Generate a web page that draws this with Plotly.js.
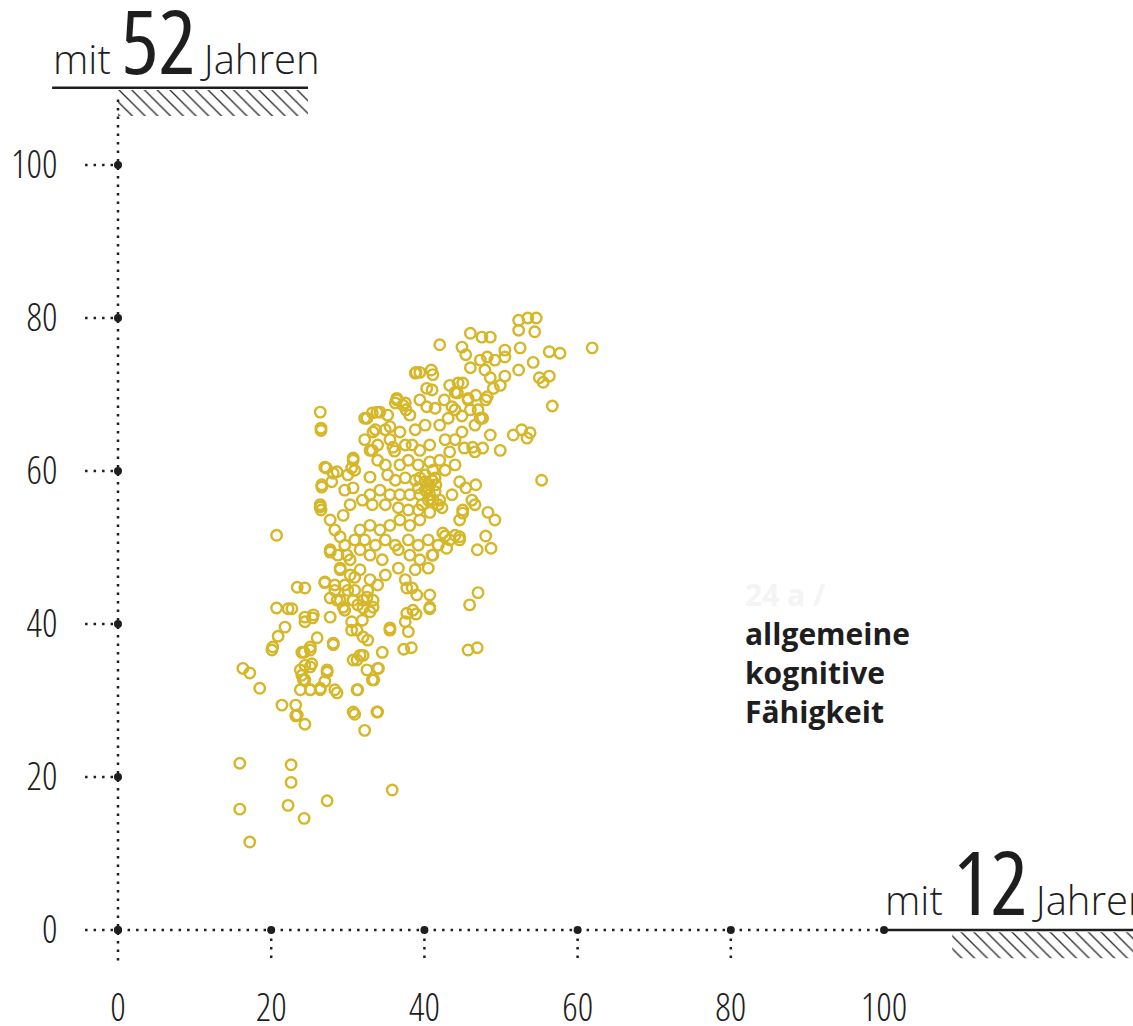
<!DOCTYPE html>
<html>
<head>
<meta charset="utf-8">
<script src="https://cdn.plot.ly/plotly-3.0.1.min.js"></script>
<style>
html,body{margin:0;padding:0;background:#fff;}
#chart{width:1133px;height:1026px;}
.xtick text, .ytick text { font-stretch: 75% !important; }
</style>
</head>
<body>
<div id="chart"></div>
<script>
// Score at age 12 (x) and at age 52 (y), general cognitive ability
const scoreAge12 = [
15.9,15.9,17.2,22.6,22.6,22.2,24.3,27.3,35.8,20.7,16.3,17.2,18.5,20.1,20.9,21.8,20.7,22.2,22.7,23.4,
24.4,21.4,23.2,23.2,24.4,23.8,24.4,24.0,24.4,24.3,25.1,25.3,25.1,26.4,27.3,27.0,26.0,24.4,25.4,28.1,
28.3,30.9,32.2,31.3,33.8,33.4,34.0,32.0,31.2,32.6,30.5,31.9,32.9,33.3,31.3,29.6,29.0,27.7,27.0,28.3,
29.6,30.9,29.0,30.3,31.6,32.9,32.6,35.5,37.5,37.3,38.3,38.4,38.9,40.7,40.7,42.7,45.9,47.0,46.9,48.7,
48.0,44.6,45.0,46.6,46.7,45.4,55.3,61.9,57.7,56.3,56.3,55.0,56.7,54.6,53.5,52.3,52.3,54.4,52.5,50.5,
52.3,49.9,48.6,47.9,49.2,47.3,48.6,47.5,46.0,44.9,45.4,46.0,42.0,44.4,44.0,45.7,46.7,48.0,47.0,47.6,
46.6,44.9,48.6,51.6,52.7,53.4,53.8,49.9,
26.4,26.5,26.5,27.2,26.6,26.4,26.5,28.6,27.9,29.6,27.7,28.3,29.0,27.7,28.7,29.6,29.4,30.3,30.5,30.7,
32.2,32.2,33.2,34.2,35.2,36.2,37.2,37.6,36.4,38.9,39.4,40.9,41.1,40.3,41.0,43.3,42.6,39.4,38.1,41.4,
43.1,44.0,44.9,46.0,42.0,40.1,38.8,36.8,34.9,33.6,35.5,33.9,32.9,36.1,37.5,38.4,39.4,40.7,42.7,44.0,
43.3,45.2,46.6,47.6,42.0,40.7,39.2,37.9,36.8,34.9,33.9,35.2,36.2,37.5,38.8,40.1,41.4,42.7,44.0,40.7,
40.1,41.4,39.4,40.5,42.0,38.1,36.8,35.5,34.2,32.9,31.9,33.2,34.9,36.6,37.9,39.2,40.7,42.3,43.6,39.4,
38.1,36.8,35.5,34.2,32.9,31.6,30.9,32.2,33.6,34.9,36.2,37.9,39.2,40.5,41.8,43.3,44.0,36.6,38.1,39.4,
41.0,40.5,38.8,34.5,32.9,31.6,30.3,33.9,34.9,36.6,37.5,
40.1,40.5,41.0,41.5,40.7,39.7,41.8,41.1,39.4,40.3,41.1,39.2,
38.8,36.4,37.5,32.5,33.8,33.3,35.5,33.2,35.9,30.7,27.0,28.1,26.6,30.0,30.9,32.9,30.7,
26.4,27.7,29.9,29.0,30.9,27.0,28.3,30.0,28.6,29.4,30.7,32.0,32.5,33.3,32.0,24.4,25.5,27.7,30.5,31.2,
32.0,20.2,24.0,25.1,28.1,31.6,30.7,32.5,33.9,33.2,34.5,31.2,28.6,30.7,33.9,23.8,24.2,25.1,27.3,26.4,
25.1,23.4,35.5,37.9,37.7,39.0,40.7,37.7,38.5,
45.7,46.9,48.2,50.5,54.2,55.5,45.0,50.5,49.0,44.3,45.7,48.2,40.3,43.6,47.3,47.3,46.3,44.6,46.2,
45.0,48.3,49.2,44.6,42.9,42.4,44.6,41.1
];
const scoreAge52 = [
21.8,15.8,11.5,21.6,19.3,16.3,14.6,16.9,18.3,51.6,34.2,33.6,31.6,36.6,38.4,39.6,42.1,42.0,42.0,44.8,
44.7,29.4,29.4,28.0,26.9,31.4,32.7,33.3,34.6,36.3,36.6,34.8,31.4,31.4,34.0,32.5,38.2,40.3,40.8,37.3,
31.4,28.2,26.1,31.4,28.5,32.7,34.2,35.9,35.3,37.9,39.2,40.5,41.6,43.1,42.5,41.8,43.1,43.4,45.4,45.1,
45.1,44.4,47.1,48.4,47.1,45.8,44.4,39.2,40.3,36.7,36.9,44.7,41.3,43.8,42.0,51.5,42.5,44.1,49.7,49.9,
51.5,53.6,54.9,55.6,58.2,57.8,58.8,76.1,75.4,75.6,72.4,72.2,68.5,80.0,80.0,79.7,78.4,78.2,76.1,75.8,
73.2,71.2,72.2,73.2,74.5,74.5,77.5,77.5,78.0,76.2,75.2,73.5,76.5,71.5,70.3,69.5,69.9,69.3,68.0,66.9,
66.0,65.1,64.7,64.7,65.4,64.3,65.0,62.7,
67.7,65.6,65.3,60.4,58.2,55.6,54.9,59.9,58.6,57.5,53.6,52.3,51.4,49.7,49.0,50.3,54.2,55.6,60.4,61.4,
64.1,66.9,67.6,67.7,67.3,68.9,68.6,68.0,69.5,72.9,72.9,73.2,72.6,70.8,70.6,71.2,69.3,69.3,67.3,68.2,
66.9,68.0,67.2,68.0,66.0,66.0,65.4,65.1,65.4,65.4,64.1,63.4,62.7,62.6,63.4,63.4,62.7,63.4,64.1,64.1,
62.5,63.0,62.5,63.0,61.4,61.2,60.8,61.4,60.8,60.8,61.4,59.5,58.8,59.1,58.8,59.5,59.1,60.1,60.8,58.2,
57.5,57.3,56.9,56.2,56.2,56.9,56.9,56.9,57.5,56.9,56.2,55.6,55.6,55.2,54.9,54.9,54.6,55.2,56.9,53.6,
52.9,53.6,52.9,52.3,52.9,52.3,51.0,51.0,50.3,51.0,50.3,51.0,50.3,51.0,50.3,51.0,51.6,49.7,49.0,48.4,
49.0,47.3,47.1,48.4,49.0,49.7,46.4,45.1,46.4,47.3,45.8,
58.6,57.8,58.8,58.2,56.9,55.6,55.6,60.1,59.1,57.3,56.2,57.8,
72.8,69.3,68.9,66.9,67.7,65.1,65.8,62.7,63.1,61.7,60.5,59.7,57.9,59.5,60.1,59.2,57.8,
55.3,49.4,49.0,47.3,46.1,45.5,44.4,44.4,43.1,42.2,43.1,43.1,43.5,42.2,42.1,40.9,41.2,40.9,40.3,39.2,
38.3,37.0,36.3,37.0,37.5,35.9,35.3,34.0,34.2,32.7,36.3,31.4,31.0,28.5,28.5,34.0,32.7,34.4,33.7,31.6,
31.4,28.1,39.5,39.0,44.7,43.8,42.2,41.4,41.8,36.6,36.9,
74.9,74.9,74.2,71.6,71.5,72.4,70.8,70.2,69.3,69.7,68.4,68.4,66.9,66.9,63.1,58.6,56.2,54.5,54.6,
53.6,51.4,49.9,51.9,51.0,49.0,48.0,47.7
];
const tickValues = [0, 20, 40, 60, 80, 100];
const tickLabels = ["0", "20", "40", "60", "80", "100"];
const yTitle = ["mit", "52", "Jahren"];
const xTitle = ["mit", "12", "Jahren"];
const legendLines = ["allgemeine", "kognitive", "Fähigkeit"];
const faintLabel = "24 a /";

const gold = '#d5b728';
const ink = '#1e1e1e';
const sans = '"Open Sans", "Noto Sans", "DejaVu Sans", sans-serif';

const xr = [-4.96, 132.5];
const yr = [-6.01, 121.57];
const px = v => (v - xr[0]) / (xr[1] - xr[0]);   // data x -> paper x
const py = v => (v - yr[0]) / (yr[1] - yr[0]);   // data y -> paper y

const traces = [];
function hatch(x0, x1, y0, y1) {
  return {
    x: [x0, x1, x1, x0, x0], y: [y0, y0, y1, y1, y0],
    mode: 'lines', fill: 'toself', line: {width: 0, color: 'rgba(0,0,0,0)'},
    fillcolor: 'rgba(255,255,255,0)',
    fillpattern: {shape: '\\', size: 9, solidity: 0.15, fgcolor: '#2a2a2a', bgcolor: 'rgba(255,255,255,0)'},
    hoverinfo: 'skip', showlegend: false
  };
}
traces.push(hatch(0, 24.8, 106.4, 109.8));
traces.push(hatch(108.9, 133, -3.7, -0.3));

traces.push({
  x: scoreAge12, y: scoreAge52, mode: 'markers', type: 'scatter',
  marker: {symbol: 'circle-open', size: 10.5, color: gold, line: {width: 2.4, color: gold}},
  showlegend: false, cliponaxis: false
});
traces.push({
  x: tickValues.concat(tickValues.map(() => 0)),
  y: tickValues.map(() => 0).concat(tickValues),
  mode: 'markers', type: 'scatter',
  marker: {symbol: 'circle', size: 8, color: ink},
  showlegend: false, cliponaxis: false
});

const dotted = {color: ink, width: 2.5, dash: '2.5px,6px'};
const shapes = [
  {type: 'line', x0: 0, x1: 0, y0: -4.0, y1: 109.2, line: dotted},
  {type: 'line', x0: -4.3, x1: 100, y0: 0, y1: 0, line: dotted},
  {type: 'line', xref: 'paper', yref: 'paper', x0: px(-8.6), x1: px(24.8), y0: py(110.1), y1: py(110.1), line: {color: ink, width: 2.5}},
  {type: 'line', x0: 100, x1: 133, y0: 0, y1: 0, line: {color: ink, width: 2.5}}
];
tickValues.forEach(v => {
  if (v > 0) {
    shapes.push({type: 'line', x0: -4.3, x1: 0, y0: v, y1: v, line: dotted});
    if (v < 100) shapes.push({type: 'line', x0: v, x1: v, y0: 0, y1: -4.0, line: dotted});
  }
});

function titleText(parts) {
  return parts[0] + ' <span style="font-size:88px;font-weight:400;font-stretch:75%">' + parts[1] + '</span>' +
    '<span style="font-size:30px"> </span>' + parts[2];
}

const annotations = [
  {x: px(-8.7), y: py(110.6), xref: 'paper', yref: 'paper', xanchor: 'left', yanchor: 'bottom', align: 'left',
   yshift: -18, showarrow: false,
   text: titleText(yTitle), font: {family: sans, size: 40, color: ink, weight: 300}},
  {x: px(99.9), y: py(0.5), xref: 'paper', yref: 'paper', xanchor: 'left', yanchor: 'bottom', align: 'left',
   yshift: -17, showarrow: false,
   text: titleText(xTitle), font: {family: sans, size: 40, color: ink, weight: 300}},
  {x: 81.6, y: 43.9, xref: 'x', yref: 'y', xanchor: 'left', yanchor: 'middle', showarrow: false,
   text: faintLabel, font: {family: sans, size: 30, color: '#f4f4f4', weight: 700}}
];
const legendY = [38.8, 33.7, 28.5];
legendLines.forEach((t, i) => annotations.push({
  x: 81.6, y: legendY[i], xref: 'x', yref: 'y', xanchor: 'left', yanchor: 'middle', showarrow: false, align: 'left',
  text: t, font: {family: sans, size: 30, color: ink, weight: 700}
}));

const layout = {
  width: 1133, height: 1026,
  margin: {l: 80, r: 0, t: 0, b: 50, pad: 0},
  paper_bgcolor: '#ffffff', plot_bgcolor: '#ffffff',
  showlegend: false,
  xaxis: {range: xr, showgrid: false, zeroline: false, showline: false,
    tickvals: tickValues, ticktext: tickLabels, ticks: 'outside', ticklen: 0, tickcolor: 'rgba(0,0,0,0)',
    ticklabelstandoff: -2,
    tickfont: {family: sans, size: 38, color: ink, weight: 300}, fixedrange: true},
  yaxis: {range: yr, showgrid: false, zeroline: false, showline: false,
    tickvals: tickValues, ticktext: tickLabels, ticks: 'outside', ticklen: 14, tickcolor: 'rgba(0,0,0,0)',
    tickfont: {family: sans, size: 38, color: ink, weight: 300}, fixedrange: true},
  shapes: shapes,
  annotations: annotations
};

Plotly.newPlot('chart', traces, layout, {displayModeBar: false, staticPlot: true});
</script>
</body>
</html>
